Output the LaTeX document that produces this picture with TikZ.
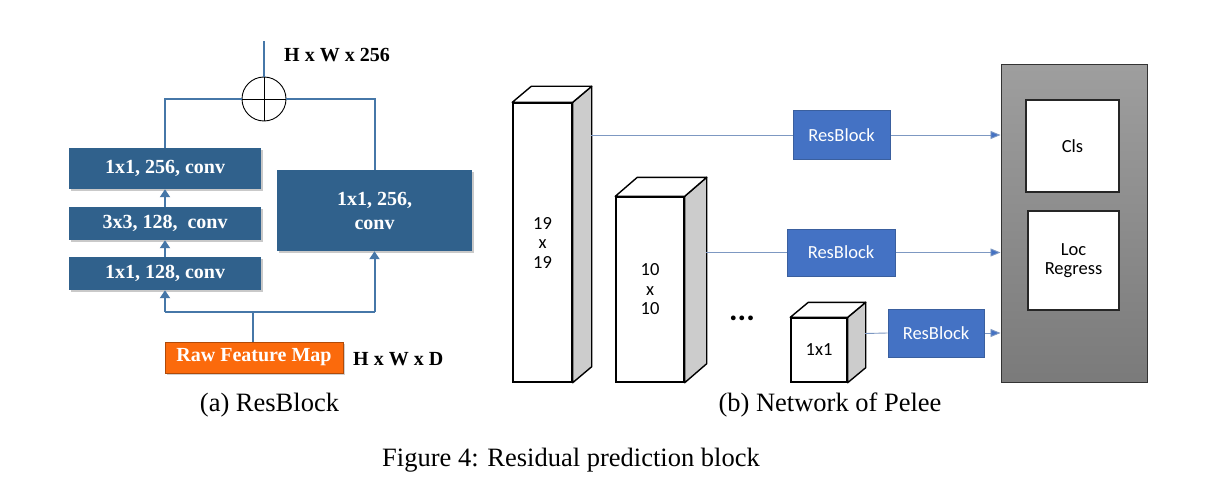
\documentclass[tikz,border=0pt]{standalone}
\usepackage{fontspec}
\setmainfont{Liberation Serif}
\newfontfamily\calib{Carlito}
\usetikzlibrary{arrows.meta,shadows}
\definecolor{convblue}{HTML}{30618C}
\definecolor{linkblue}{HTML}{4677A8}
\definecolor{rawor}{HTML}{FB6A0C}
\definecolor{resfill}{HTML}{4472C4}
\definecolor{resedge}{HTML}{3A5F9E}
\definecolor{thinline}{HTML}{7D98C2}
\definecolor{sidegray}{HTML}{CCCCCC}
\begin{document}
\begin{tikzpicture}[x=1pt,y=-1pt,
  conv/.style={fill=convblue,text=white,inner sep=0pt,anchor=center,
    font=\fontsize{20}{24}\selectfont\bfseries,align=center,
    drop shadow={shadow xshift=1.5pt,shadow yshift=-2pt,opacity=0.35,fill=black!60}},
  link/.style={draw=linkblue,line width=2pt},
  linkarrow/.style={link,-{Triangle[width=10pt,length=8pt]}},
  face/.style={draw=black,line width=1.4pt,fill=white,inner sep=0pt,anchor=center,
    font=\calib\fontsize{18.5}{19.5}\selectfont,align=center},
  sideface/.style={draw=black,line width=1.4pt,fill=sidegray,line join=round},
  topface/.style={draw=black,line width=1.4pt,fill=white,line join=round},
  resblock/.style={fill=resfill,draw=resedge,line width=1pt,text=white,inner sep=0pt,
    anchor=center,font=\calib\fontsize{18.5}{20}\selectfont},
  thinlink/.style={draw=thinline,line width=0.9pt},
  thinarrow/.style={thinlink,-{Triangle[width=8pt,length=10pt,fill=resfill]}},
  outbox/.style={draw=black!85,line width=1.2pt,fill=white,inner sep=0pt,anchor=center,
    font=\calib\fontsize{18.5}{19.5}\selectfont,align=center},
  captext/.style={font=\fontsize{26.5}{30}\selectfont,inner sep=0pt,anchor=center},
  dimlabel/.style={font=\fontsize{20}{24}\selectfont\bfseries,inner sep=0pt,anchor=west}
]
\useasboundingbox (0,0) rectangle (1231,500);
\fill[white] (0,0) rectangle (1231,500);

% ---------- (a) ResBlock ----------
\node[conv,minimum width=192pt,minimum height=41pt] (b1) at (165,168.5) {1x1, 256, conv};
\node[conv,minimum width=192pt,minimum height=33pt] (b2) at (165,223.5) {3x3, 128,\ \ conv};
\node[conv,minimum width=192pt,minimum height=33pt] (b3) at (165,273.5) {1x1, 128, conv};
\node[conv,minimum width=195pt,minimum height=81pt] (br) at (374.5,210.5) {1x1, 256,\\conv};
\node[fill=rawor,draw=rawor!70!black,line width=0.8pt,text=white,inner sep=0pt,anchor=center,
  minimum width=178pt,minimum height=31pt,font=\fontsize{20}{24}\selectfont\bfseries,
  drop shadow={shadow xshift=1.5pt,shadow yshift=-2pt,opacity=0.3,fill=black!60}]
  (raw) at (254,357.5) {Raw Feature Map};
\node[dimlabel] (hwd) at (353,359) {H x W x D};

\node[circle,draw=black,line width=0.9pt,minimum size=44pt,inner sep=0pt] (sum) at (264,99) {};
\draw[black,line width=0.8pt] (sum.north) -- (sum.south) (sum.west) -- (sum.east);
\coordinate (topend) at (264,41);
\node[dimlabel] (hw256) at (284,55) {H x W x 256};

\coordinate (split) at (253,312);
\coordinate (splitL) at (165,312);
\coordinate (splitR) at (374.5,312);
\draw[link] (raw.north -| split) -- (split);
\draw[link] (splitL) -- (splitR);
\draw[linkarrow] (splitL) -- (b3.south);
\draw[linkarrow] (splitR) -- (br.south);
\draw[linkarrow] (b3.north) -- (b2.south);
\draw[linkarrow] (b2.north) -- (b1.south);
\draw[link] (b1.north) |- (sum.west);
\draw[link] (br.north) |- (sum.east);
\draw[link] (sum.north) -- (topend);

% ---------- (b) Network of Pelee ----------
% cuboid 1
\node[face,minimum width=59pt,minimum height=279pt] (c1) at (542.5,242.5) {19\\x\\19};
\draw[sideface] (c1.north east) -- ++(19,-16) -- ([shift={(19,-16)}]c1.south east) -- (c1.south east) -- cycle;
\draw[topface] (c1.north west) -- ++(19,-16) -- ([shift={(19,-16)}]c1.north east) -- (c1.north east) -- cycle;
% cuboid 2
\node[face,minimum width=68pt,minimum height=185pt] (c2) at (650,289.5) {10\\x\\10};
\draw[sideface] (c2.north east) -- ++(22,-19) -- ([shift={(22,-19)}]c2.south east) -- (c2.south east) -- cycle;
\draw[topface] (c2.north west) -- ++(22,-19) -- ([shift={(22,-19)}]c2.north east) -- (c2.north east) -- cycle;
% cuboid 3
\node[face,minimum width=56pt,minimum height=64pt] (c3) at (819,350) {1x1};
\draw[sideface] (c3.north east) -- ++(18,-15) -- ([shift={(18,-15)}]c3.south east) -- (c3.south east) -- cycle;
\draw[topface] (c3.north west) -- ++(18,-15) -- ([shift={(18,-15)}]c3.north east) -- (c3.north east) -- cycle;

\node[font=\calib\fontsize{32}{32}\selectfont\bfseries,inner sep=0pt] (dots) at (742,318) {...};

\coordinate (c1out) at (591,135);
\coordinate (c2out) at (706,252.5);
\coordinate (c3out) at (865,333.5);

\node[resblock,minimum width=97pt,minimum height=48pt] (r1) at (841.5,135) {ResBlock};
\node[resblock,minimum width=108pt,minimum height=47pt] (r2) at (841,252.5) {ResBlock};
\node[resblock,minimum width=96pt,minimum height=48pt] (r3) at (936,333) {ResBlock};

\node[draw=black!80,line width=1pt,inner sep=0pt,minimum width=146pt,minimum height=317pt,
  top color=black!38,bottom color=black!52,anchor=center] (panel) at (1074,223.5) {};
\node[outbox,minimum width=93pt,minimum height=92pt] (cls) at (1072.5,146) {Cls};
\node[outbox,minimum width=91pt,minimum height=99pt] (loc) at (1073.5,260.5) {Loc\\Regress};

\draw[thinlink] (c1out) -- (r1.west);
\draw[thinlink] (c2out) -- (r2.west);
\draw[thinlink] (c3out) -- (r3.west);
\draw[thinarrow] (r1.east) -- (r1.east -| panel.west);
\draw[thinarrow] (r2.east) -- (r2.east -| panel.west);
\draw[thinarrow] (r3.east) -- (r3.east -| panel.west);

% ---------- captions ----------
\node[captext] (capa) at (269.5,405) {(a) ResBlock};
\node[captext] (capb) at (830,405) {(b) Network of Pelee};
\node[captext] (capfig) at (571,460) {Figure 4: Residual prediction block};
\end{tikzpicture}
\end{document}
